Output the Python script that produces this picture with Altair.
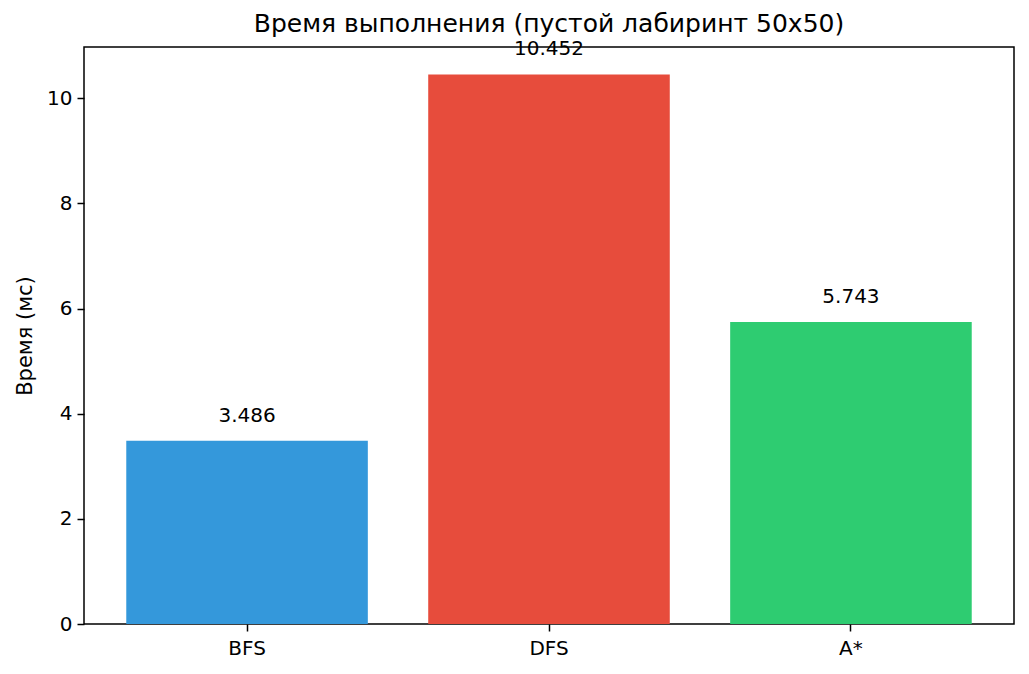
import altair as alt
import pandas as pd

algorithms = ["BFS", "DFS", "A*"]
times_ms = [3.486, 10.452, 5.743]
bar_colors = ["#3498db", "#e74c3c", "#2ecc71"]

df = pd.DataFrame({"algo": algorithms, "time": times_ms})
df["label"] = df["time"].map(lambda v: f"{v:.3f}")

FONT = "DejaVu Sans"

x_enc = alt.X(
    "algo:N",
    sort=algorithms,
    title=None,
    scale=alt.Scale(paddingInner=0.2, paddingOuter=0.14),
    axis=alt.Axis(labelAngle=0, labelFontSize=20, labelColor="black",
                  tickSize=7, tickWidth=1.5, tickColor="black",
                  domain=False, labelPadding=7),
)
y_enc = alt.Y(
    "time:Q",
    title="Время (мс)",
    scale=alt.Scale(domain=[0, 10.9746], nice=False, zero=True),
    axis=alt.Axis(values=[0, 2, 4, 6, 8, 10], grid=False, labelFontSize=20,
                  labelColor="black", tickSize=7, tickWidth=1.5,
                  tickColor="black", domain=False, labelPadding=5,
                  titleFontSize=21, titleColor="black", titleFontWeight="normal",
                  titlePadding=11),
)

bars = alt.Chart(df).mark_bar().encode(
    x=x_enc,
    y=y_enc,
    color=alt.Color("algo:N", scale=alt.Scale(domain=algorithms, range=bar_colors),
                    legend=None),
)

labels = alt.Chart(df).mark_text(
    baseline="bottom", dy=-15, fontSize=20, font=FONT, color="black"
).encode(
    x=alt.X("algo:N", sort=algorithms),
    y="time:Q",
    text="label:N",
)

chart = (bars + labels).properties(
    width=930,
    height=577,
    autosize=alt.AutoSizeParams(type="none"),
    padding={"left": 76, "top": 39, "right": 7, "bottom": 40},
    background="white",
    title=alt.TitleParams(
        "Время выполнения (пустой лабиринт 50x50)",
        fontSize=25, font=FONT, fontWeight="normal", color="black",
        anchor="middle", offset=2,
    ),
).configure_axis(
    labelFont=FONT,
    titleFont=FONT,
).configure_view(
    stroke="black",
    strokeWidth=1.5,
)

chart.save("out.html", embed_options={"renderer": "svg", "actions": False})
